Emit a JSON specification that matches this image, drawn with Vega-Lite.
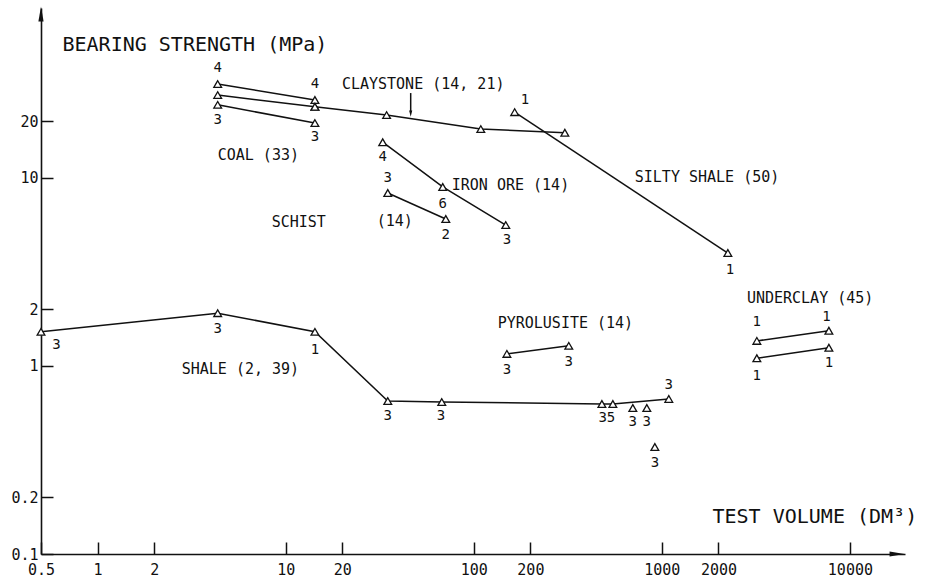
{
  "$schema": "https://vega.github.io/schema/vega-lite/v6.json",
  "width": 864,
  "height": 546,
  "autosize": {"type": "none"},
  "padding": {"left": 41, "top": 8, "right": 22, "bottom": 23},
  "background": "white",
  "config": {
    "view": {"stroke": null},
    "font": "DejaVu Sans Mono",
    "axis": {"grid": false, "domainColor": "#111", "domainWidth": 1.6, "tickColor": "#111", "tickWidth": 1.5, "labelColor": "#111", "labelFont": "DejaVu Sans Mono", "labelFontSize": 15, "titleFont": "DejaVu Sans Mono", "titleFontWeight": "normal", "titleColor": "#111", "titleFontSize": 20, "labelFlush": false, "labelOverlap": false, "labelBound": false}
  },
  "datasets": {
    "pts": [
      {"series": "coal_a", "x": 4.35, "y": 31.6}, {"series": "coal_a", "x": 14.3, "y": 26.0},
      {"series": "coal_b", "x": 4.35, "y": 27.6}, {"series": "coal_b", "x": 14.3, "y": 23.9},
      {"series": "coal_c", "x": 4.35, "y": 24.5}, {"series": "coal_c", "x": 14.3, "y": 19.6},
      {"series": "clay", "x": 14.3, "y": 23.9}, {"series": "clay", "x": 34.4, "y": 21.6}, {"series": "clay", "x": 109, "y": 18.2}, {"series": "clay", "x": 305, "y": 17.4},
      {"series": "silty", "x": 165, "y": 22.4}, {"series": "silty", "x": 2244, "y": 3.99},
      {"series": "iron", "x": 32.8, "y": 15.5}, {"series": "iron", "x": 68.4, "y": 8.96}, {"series": "iron", "x": 148, "y": 5.62},
      {"series": "schist", "x": 34.9, "y": 8.32}, {"series": "schist", "x": 71, "y": 6.05},
      {"series": "shale", "x": 0.5, "y": 1.52}, {"series": "shale", "x": 4.35, "y": 1.91}, {"series": "shale", "x": 14.3, "y": 1.52}, {"series": "shale", "x": 34.9, "y": 0.651}, {"series": "shale", "x": 67.6, "y": 0.643}, {"series": "shale", "x": 480, "y": 0.628}, {"series": "shale", "x": 549, "y": 0.628}, {"series": "shale", "x": 1089, "y": 0.668},
      {"series": "shale_p1", "x": 701, "y": 0.598}, {"series": "shale_p2", "x": 832, "y": 0.598}, {"series": "shale_p3", "x": 918, "y": 0.371},
      {"series": "pyro", "x": 150, "y": 1.16}, {"series": "pyro", "x": 320, "y": 1.28},
      {"series": "under_a", "x": 3200, "y": 1.36}, {"series": "under_a", "x": 7730, "y": 1.54},
      {"series": "under_b", "x": 3200, "y": 1.10}, {"series": "under_b", "x": 7730, "y": 1.25}
    ],
    "nums": [
      {"t": "4", "x": 4.35, "y": 38.5}, {"t": "4", "x": 14.3, "y": 31.6},
      {"t": "3", "x": 4.35, "y": 20.3}, {"t": "3", "x": 14.3, "y": 16.5},
      {"t": "1", "x": 187, "y": 26.0}, {"t": "1", "x": 2300, "y": 3.24},
      {"t": "4", "x": 32.8, "y": 12.9}, {"t": "6", "x": 68.4, "y": 7.27}, {"t": "3", "x": 150, "y": 4.68},
      {"t": "3", "x": 34.9, "y": 10.0}, {"t": "2", "x": 71, "y": 4.97},
      {"t": "3", "x": 0.605, "y": 1.29}, {"t": "3", "x": 4.35, "y": 1.57}, {"t": "1", "x": 14.3, "y": 1.22},
      {"t": "3", "x": 34.9, "y": 0.542}, {"t": "3", "x": 67, "y": 0.542}, {"t": "35", "x": 510, "y": 0.529},
      {"t": "3", "x": 701, "y": 0.504}, {"t": "3", "x": 832, "y": 0.504}, {"t": "3", "x": 1089, "y": 0.792}, {"t": "3", "x": 918, "y": 0.305},
      {"t": "3", "x": 150, "y": 0.952}, {"t": "3", "x": 320, "y": 1.05},
      {"t": "1", "x": 3200, "y": 1.71}, {"t": "1", "x": 7500, "y": 1.82}, {"t": "1", "x": 3200, "y": 0.885}, {"t": "1", "x": 7730, "y": 1.04}
    ],
    "names": [
      {"t": "COAL (33)", "x": 4.35, "y": 13.3},
      {"t": "CLAYSTONE (14, 21)", "x": 19.9, "y": 31.6},
      {"t": "IRON ORE (14)", "x": 76.4, "y": 9.17},
      {"t": "SCHIST", "x": 8.42, "y": 5.83},
      {"t": "(14)", "x": 30.5, "y": 5.9},
      {"t": "SILTY SHALE (50)", "x": 718, "y": 10.1},
      {"t": "SHALE (2, 39)", "x": 2.8, "y": 0.964},
      {"t": "PYROLUSITE (14)", "x": 134, "y": 1.69},
      {"t": "UNDERCLAY (45)", "x": 2833, "y": 2.3}
    ]
  },
  "encoding": {
    "x": {
      "field": "x", "type": "quantitative",
      "scale": {"type": "log", "domain": [0.5, 19630], "nice": false, "clamp": false},
      "axis": {"values": [0.5, 1, 2, 10, 20, 100, 200, 1000, 2000, 10000], "format": "~g", "labelExpr": "datum.value == 0.5 ? '0.5' : format(datum.value, 'd')", "tickSize": -12, "labelPadding": 20, "title": "TEST VOLUME (DM³)", "titleX": 671, "titleY": -38, "titleAlign": "left", "titleBaseline": "middle", "titleAnchor": null}
    },
    "y": {
      "field": "y", "type": "quantitative",
      "scale": {"type": "log", "domain": [0.1, 80.2], "nice": false, "clamp": false},
      "axis": {"values": [0.1, 0.2, 1, 2, 10, 20], "labelExpr": "datum.value < 1 ? format(datum.value, '.1f') : format(datum.value, 'd')", "tickSize": -12, "labelPadding": 15, "title": "BEARING STRENGTH (MPa)", "titleAngle": 0, "titleX": 21, "titleY": 36, "titleAlign": "left", "titleBaseline": "middle", "titleAnchor": null}
    }
  },
  "layer": [
    {
      "data": {"name": "pts"},
      "mark": {"type": "line", "color": "#111", "strokeWidth": 1.5},
      "encoding": {"detail": {"field": "series"}}
    },
    {
      "data": {"name": "pts"},
      "mark": {"type": "point", "shape": "triangle-up", "size": 60, "filled": false, "fill": "white", "fillOpacity": 1, "stroke": "#111", "strokeWidth": 1.3, "opacity": 1}
    },
    {
      "data": {"name": "nums"},
      "mark": {"type": "text", "fontSize": 14, "color": "#111", "align": "center", "baseline": "middle", "font": "DejaVu Sans Mono"},
      "encoding": {"text": {"field": "t"}}
    },
    {
      "data": {"name": "names"},
      "mark": {"type": "text", "fontSize": 15, "color": "#111", "align": "left", "baseline": "middle", "font": "DejaVu Sans Mono"},
      "encoding": {"text": {"field": "t"}}
    },
    {
      "data": {"values": [{"x": 46.2, "y": 28.3, "y2": 22.4}]},
      "mark": {"type": "rule", "color": "#111", "strokeWidth": 1.5},
      "encoding": {"y2": {"field": "y2"}}
    },
    {
      "data": {"values": [{"x": 46.2, "y": 22.0}]},
      "mark": {"type": "point", "shape": "M-0.5,-1L0.5,-1L0,1Z", "size": 40, "filled": true, "color": "#111", "opacity": 1}
    },
    {
      "data": {"values": [{"x": 0.5, "y": 74.5}]},
      "mark": {"type": "point", "shape": "M0,-1L0.35,1L-0.35,1Z", "size": 220, "filled": true, "color": "#111", "opacity": 1, "clip": false}
    },
    {
      "data": {"values": [{"x": 17800, "y": 0.1}]},
      "mark": {"type": "point", "shape": "M1,0L-1,0.35L-1,-0.35Z", "size": 220, "filled": true, "color": "#111", "opacity": 1, "clip": false}
    }
  ]
}
